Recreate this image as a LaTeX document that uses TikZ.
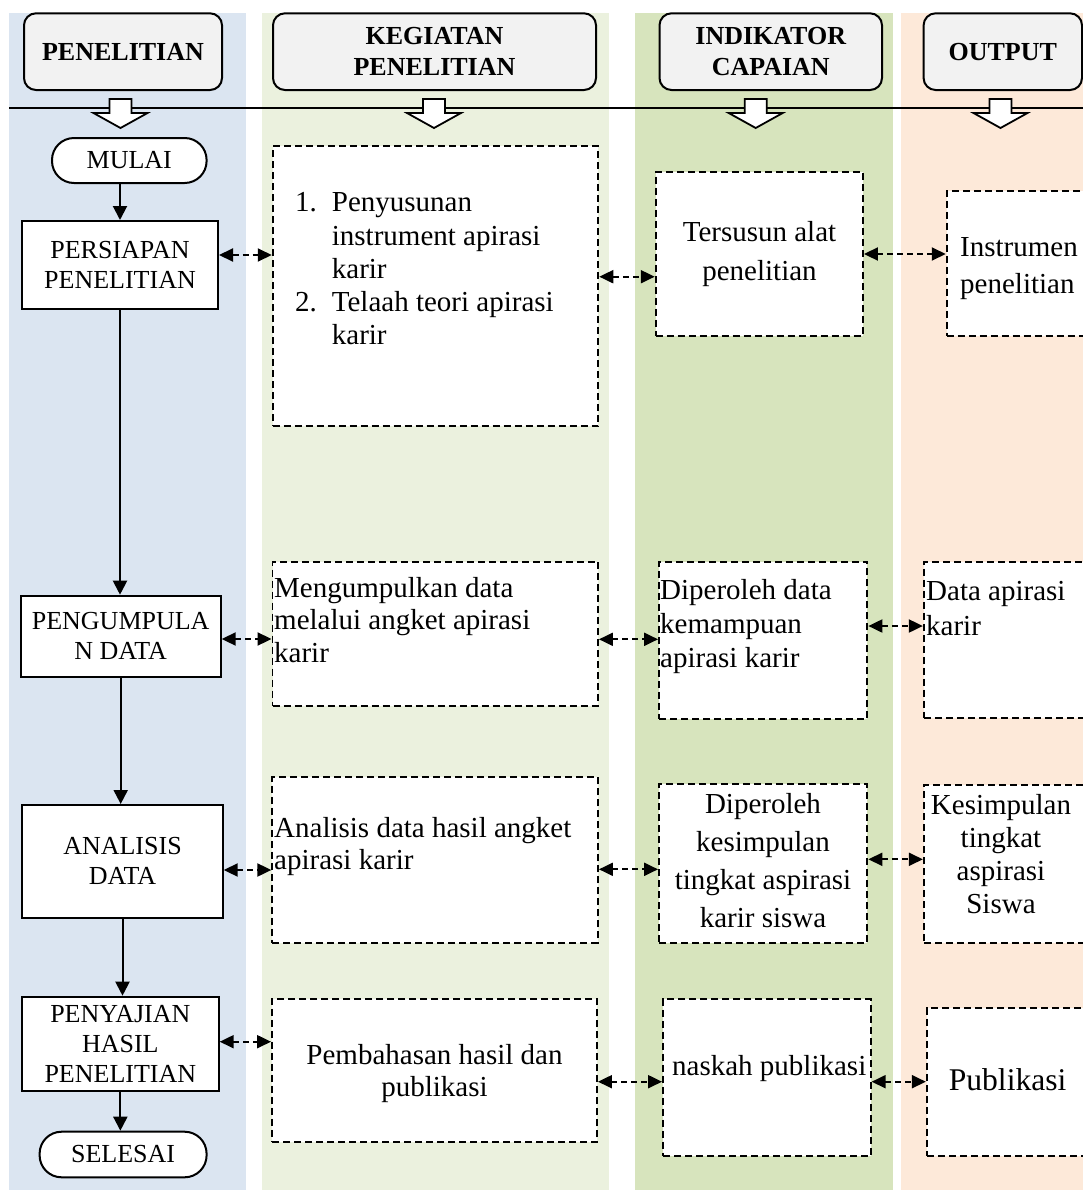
\documentclass[tikz,border=0pt]{standalone}
\usepackage{fontspec}
\setmainfont{Liberation Serif}
\usetikzlibrary{arrows.meta}
\definecolor{bgblue}{HTML}{DBE5F1}
\definecolor{bglgreen}{HTML}{EBF1DE}
\definecolor{bgmgreen}{HTML}{D7E4BD}
\definecolor{bgpeach}{HTML}{FDE9D9}
\definecolor{hdrgray}{HTML}{F2F2F2}
\newcommand{\tbl}[2]{\begin{tabular}[t]{@{}#1@{}}#2\end{tabular}}
\begin{document}
\begin{tikzpicture}[x=1pt,y=-1pt,
  hdr/.style={draw, fill=hdrgray, rounded corners=12pt, line width=2pt, inner sep=0pt,
    align=center, font=\bfseries\fontsize{26}{30.7}\selectfont, minimum height=76.7pt},
  sbox/.style={draw, fill=white, line width=2pt, inner sep=0pt, align=center,
    font=\fontsize{26}{30}\selectfont},
  term/.style={sbox, rounded corners=22pt},
  dbox/.style={draw, fill=white, line width=1.9pt, dash pattern=on 7pt off 4pt, inner sep=0pt},
  rtext/.style={inner sep=0pt, font=\fontsize{29}{33.3}\selectfont},
  flow/.style={-{Triangle[length=14pt,width=14pt]}, line width=2pt},
  link/.style={{Triangle[length=14pt,width=13pt]}-{Triangle[length=14pt,width=13pt]},
    line width=2pt, dash pattern=on 6pt off 4pt},
  blockarr/.style={draw, fill=white, line width=1.8pt, line join=miter},
]
\useasboundingbox (0,0) rectangle (1083,1192);
% column backgrounds
\fill[bgblue]   (9,13.3)   rectangle (246,1190);
\fill[bglgreen] (262,13.3) rectangle (609,1190);
\fill[bgmgreen] (634.5,13.3) rectangle (892.5,1190);
\fill[bgpeach]  (901,13.3) rectangle (1083,1190);

% headers
\node[hdr, minimum width=198pt] (h1) at (123,51.65) {PENELITIAN};
\node[hdr, minimum width=323pt] (h2) at (434.5,51.65) {KEGIATAN\\PENELITIAN};
\node[hdr, minimum width=222.5pt] (h3) at (770.75,51.65) {INDIKATOR\\CAPAIAN};
\node[hdr, minimum width=158.4pt] (h4) at (1002.8,51.65) {OUTPUT};

% separator line
\coordinate (sepL) at (9,107.7);
\coordinate (sepR) at (1090,107.7);
\draw[line width=2pt] (sepL) -- (sepR);

% block arrows
\foreach \c in {120.5,434,755.7,1000.5}{
  \draw[blockarr] ({\c-11},99) -- ({\c+11},99) -- ({\c+11},113) -- ({\c+27},113)
    -- (\c,128) -- ({\c-27},113) -- ({\c-11},113) -- cycle;
}

% left column
\node[term, minimum width=154.6pt, minimum height=45pt] (mulai) at (129.3,160.5) {MULAI};
\node[sbox, minimum width=196pt, minimum height=88pt] (p1) at (120,265) {PERSIAPAN\\PENELITIAN};
\node[sbox, minimum width=200pt, minimum height=81pt] (p2) at (120.7,636.2) {PENGUMPULA\\N DATA};
\node[sbox, minimum width=200.4pt, minimum height=112.7pt] (p3) at (122.5,861.35) {ANALISIS\\DATA};
\node[sbox, minimum width=196.7pt, minimum height=94pt] (p4) at (120.35,1043.7) {PENYAJIAN\\HASIL\\PENELITIAN};
\node[term, minimum width=167pt, minimum height=45.6pt] (selesai) at (123.1,1154.5) {SELESAI};

% kegiatan boxes
\node[dbox, minimum width=325.6pt, minimum height=280pt] (k1) at (435.5,286) {};
\node[dbox, minimum width=325.5pt, minimum height=144pt] (k2) at (435.25,633.7) {};
\node[dbox, minimum width=325.7pt, minimum height=165.4pt] (k3) at (435.15,860) {};
\node[dbox, minimum width=325pt, minimum height=143.3pt] (k4) at (434.5,1070.65) {};
% indikator boxes
\node[dbox, minimum width=207.3pt, minimum height=163.7pt] (i1) at (759.35,253.85) {};
\node[dbox, minimum width=208.4pt, minimum height=157.3pt] (i2) at (763.2,640.35) {};
\node[dbox, minimum width=208.4pt, minimum height=158.4pt] (i3) at (763.2,863.5) {};
\node[dbox, minimum width=207.7pt, minimum height=157pt] (i4) at (766.85,1077.5) {};
% output boxes
\node[dbox, minimum width=148.3pt, minimum height=144.7pt] (o1) at (1020.85,263.35) {};
\node[dbox, minimum width=171.2pt, minimum height=156.6pt] (o2) at (1009.4,640) {};
\node[dbox, minimum width=171.2pt, minimum height=157.7pt] (o3) at (1009.4,863.85) {};
\node[dbox, minimum width=168.2pt, minimum height=148pt] (o4) at (1010.9,1082) {};

% texts
\node[rtext, anchor=base west] (tk1) at (295,211.7)
  {\begin{tabular}[t]{@{}p{36.7pt}@{}l@{}}1.&Penyusunan\\ &instrument apirasi\\ &karir\\ 2.&Telaah teori apirasi\\ &karir\end{tabular}};
\node[rtext, anchor=base west, font=\fontsize{29}{32.5}\selectfont] (tk2) at (274,597)
  {\tbl{l}{Mengumpulkan data\\melalui angket apirasi\\karir}};
\node[rtext, anchor=base west, font=\fontsize{29}{32}\selectfont] (tk3) at (274,837)
  {\tbl{l}{Analisis data hasil angket\\apirasi karir}};
\node[rtext, anchor=base, font=\fontsize{29}{32}\selectfont] (tk4) at (434.5,1064)
  {\tbl{c}{Pembahasan hasil dan\\publikasi}};
\node[rtext, anchor=base, font=\fontsize{29}{38.3}\selectfont] (ti1) at (759.5,241.7)
  {\tbl{c}{Tersusun alat\\penelitian}};
\node[rtext, anchor=base west, font=\fontsize{29}{34}\selectfont] (ti2) at (660,599)
  {\tbl{l}{Diperoleh data\\kemampuan\\apirasi karir}};
\node[rtext, anchor=base, font=\fontsize{29}{38}\selectfont] (ti3) at (763,813)
  {\tbl{c}{Diperoleh\\kesimpulan\\tingkat aspirasi\\karir siswa}};
\node[rtext, anchor=base west] (ti4) at (672,1075) {naskah publikasi};
\node[rtext, anchor=base west, font=\fontsize{29}{36.6}\selectfont] (to1) at (960,256.7)
  {\tbl{l}{Instrumen\\penelitian}};
\node[rtext, anchor=base west, font=\fontsize{29}{35}\selectfont] (to2) at (926,600)
  {\tbl{l}{Data apirasi\\karir}};
\node[rtext, anchor=base, font=\fontsize{29}{33}\selectfont] (to3) at (1001,814)
  {\tbl{c}{Kesimpulan\\tingkat\\aspirasi\\Siswa}};
\node[rtext, anchor=base west, font=\fontsize{31.6}{36}\selectfont] (to4) at (948.6,1090) {Publikasi};

% vertical flow
\draw[flow] (mulai.south -| p1.north) -- (p1.north);
\draw[flow] (p1.south) -- (p1.south |- p2.north);
\draw[flow] (p2.south) -- (p2.south |- p3.north);
\draw[flow] (p3.south) -- (p3.south |- p4.north);
\draw[flow] (p4.south) -- (p4.south |- selesai.north);

% dashed links
\coordinate (ya1) at (0,255);    \coordinate (yb1) at (0,276.7);  \coordinate (yc1) at (0,254);
\coordinate (ya2) at (0,639);    \coordinate (yb2) at (0,639.3);  \coordinate (yc2) at (0,626);
\coordinate (ya3) at (0,870);    \coordinate (yb3) at (0,869.3);  \coordinate (yc3) at (0,859.3);
\coordinate (ya4) at (0,1041.7); \coordinate (yb4) at (0,1081.7); \coordinate (yc4) at (0,1081.7);
\foreach \r in {1,2,3,4}{
  \draw[link] (p\r.east |- ya\r) -- (k\r.west |- ya\r);
  \draw[link] (k\r.east |- yb\r) -- (i\r.west |- yb\r);
  \draw[link] (i\r.east |- yc\r) -- (o\r.west |- yc\r);
}
\end{tikzpicture}
\end{document}
